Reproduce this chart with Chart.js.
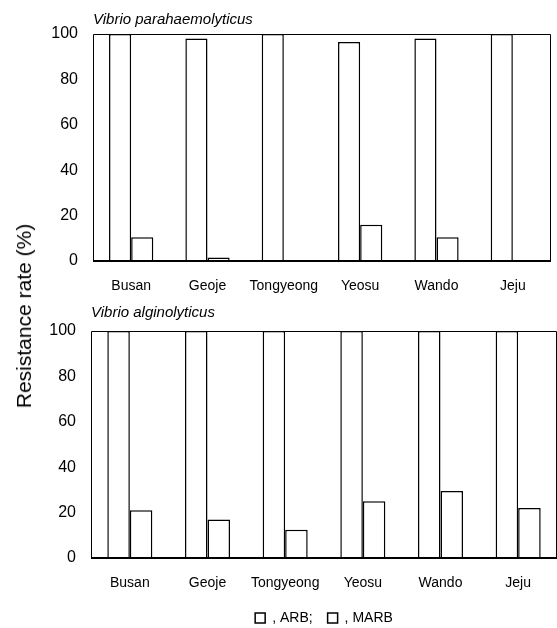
<!DOCTYPE html>
<html>
<head>
<meta charset="utf-8">
<script src="https://cdn.jsdelivr.net/npm/chart.js@4.4.1/dist/chart.umd.min.js"></script>
<style>
  html, body { margin: 0; padding: 0; background: #fff; }
  #wrap { position: relative; width: 557px; height: 628px; overflow: hidden; font-family: "Liberation Sans", Arial, sans-serif; }
  canvas { position: absolute; left: 0; }
  #chartTop { top: 0; }
  #chartBottom { top: 296px; }
  #ytitle { position: absolute; left: 24px; top: 316px; transform: translate(-50%, -50%) rotate(-90deg); font-size: 21px; white-space: nowrap; color: #000; }
</style>
</head>
<body>
<div id="wrap">
  <canvas id="chartTop" width="557" height="296"></canvas>
  <canvas id="chartBottom" width="557" height="350"></canvas>
  <div id="ytitle">Resistance rate (%)</div>
</div>
<script>
const sites = ['Busan', 'Geoje', 'Tongyeong', 'Yeosu', 'Wando', 'Jeju'];
const yTicks = [0, 20, 40, 60, 80, 100];

// Vibrio parahaemolyticus
const paraARB = [100, 98, 100, 96.5, 98, 100];
const paraMARB = [10.5, 1.5, 0, 16, 10.5, 0];

// Vibrio alginolyticus
const algARB = [100, 100, 100, 100, 100, 100];
const algMARB = [21, 17, 12.5, 25, 29.5, 22];

Chart.defaults.font.family = "'Liberation Sans', Arial, sans-serif";
Chart.defaults.color = '#000';

// box round the plot area, drawn over the bars
const frame = {
  id: 'frame',
  afterDatasetsDraw(chart) {
    const {ctx, chartArea: a} = chart;
    ctx.save();
    ctx.strokeStyle = '#000';
    ctx.lineWidth = 1;
    ctx.beginPath();
    ctx.moveTo(a.left + 0.5, a.bottom);
    ctx.lineTo(a.left + 0.5, a.top + 0.5);
    ctx.lineTo(a.right - 0.5, a.top + 0.5);
    ctx.lineTo(a.right - 0.5, a.bottom);
    ctx.stroke();
    ctx.lineWidth = 2;
    ctx.beginPath();
    ctx.moveTo(a.left, a.bottom);
    ctx.lineTo(a.right, a.bottom);
    ctx.stroke();
    ctx.restore();
  }
};

function panel(id, name, arb, marb, o) {
  return new Chart(document.getElementById(id), {
    type: 'bar',
    data: {
      labels: sites,
      datasets: [
        { label: 'ARB', data: arb, backgroundColor: '#fff', borderColor: '#000', borderWidth: 1.5 },
        { label: 'MARB', data: marb, backgroundColor: '#fff', borderColor: '#000', borderWidth: 1.5 }
      ]
    },
    options: {
      responsive: false,
      animation: false,
      layout: { padding: { top: 0, right: o.right, bottom: o.bottom, left: 0 } },
      datasets: { bar: { categoryPercentage: 0.58, barPercentage: 1 } },
      plugins: {
        tooltip: { enabled: false },
        title: {
          display: true,
          text: name,
          align: 'start',
          fullSize: false,
          font: { size: 15, style: 'italic', weight: 'normal' },
          padding: { top: o.titleTop, bottom: o.titleBottom }
        },
        legend: o.legend ? {
          display: true,
          position: 'bottom',
          fullSize: false,
          labels: {
            boxWidth: 10,
            boxHeight: 10,
            padding: 15,
            font: { size: 14 },
            generateLabels: chart => chart.data.datasets.map((ds, i) => ({
              text: ', ' + ds.label + (i === 0 ? ';' : ''),
              fillStyle: '#fff',
              strokeStyle: '#000',
              lineWidth: 1.5,
              fontColor: '#000',
              hidden: false,
              datasetIndex: i
            }))
          }
        } : { display: false }
      },
      scales: {
        x: {
          grid: { display: false, drawTicks: false },
          border: { display: false },
          ticks: { padding: 17, maxRotation: 0, autoSkip: false, font: { size: 14 } },
          afterFit: s => { s.height = o.xHeight; }
        },
        y: {
          min: 0,
          max: 100,
          grid: { display: false, drawTicks: false },
          border: { display: false },
          ticks: { padding: 15, font: { size: 16 } },
          afterBuildTicks: s => { s.ticks = yTicks.map(v => ({ value: v })); },
          afterFit: s => { s.width = o.yWidth; }
        }
      }
    },
    plugins: [frame]
  });
}

panel('chartTop', 'Vibrio parahaemolyticus', paraARB, paraMARB,
  { right: 6, bottom: 0, titleTop: 11, titleBottom: 5, xHeight: 35, yWidth: 93, legend: false });
panel('chartBottom', 'Vibrio alginolyticus', algARB, algMARB,
  { right: 0, bottom: 11, titleTop: 8, titleBottom: 9, xHeight: 38, yWidth: 91, legend: true });
</script>
</body>
</html>
